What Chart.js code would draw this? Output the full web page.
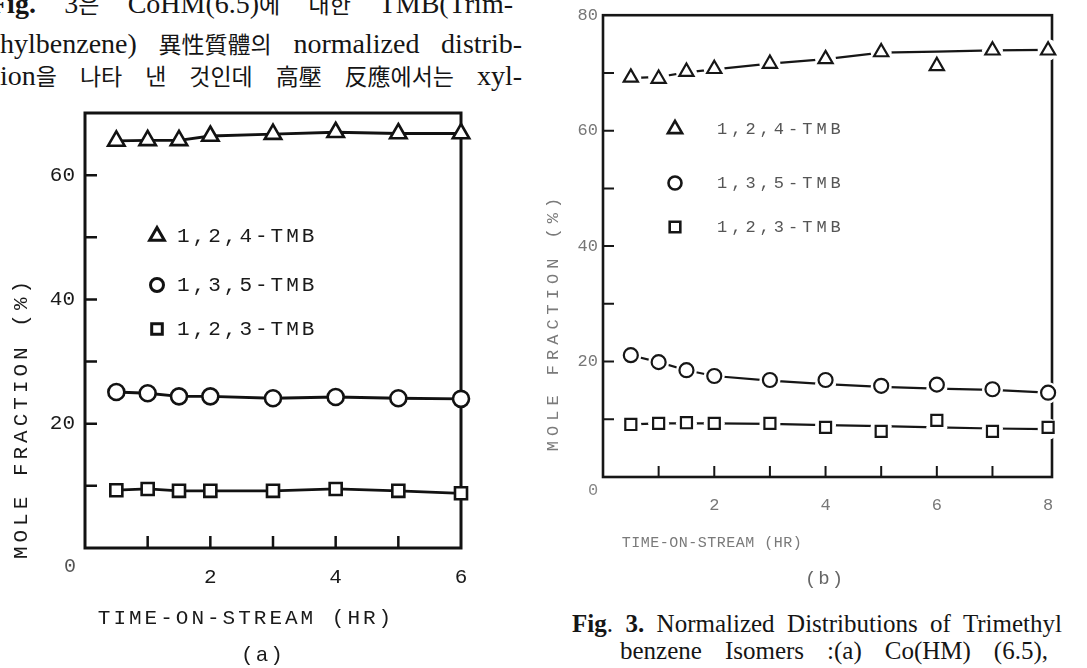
<!DOCTYPE html>
<html>
<head>
<meta charset="utf-8">
<script src="https://cdn.jsdelivr.net/npm/chart.js@4.4.1/dist/chart.umd.min.js"></script>
<style>
  html, body { margin: 0; padding: 0; background: #fff; }
  body { width: 1087px; height: 668px; position: relative; overflow: hidden; }
  .line { position: absolute; font-family: "Liberation Serif", "Noto Sans CJK KR", serif; color: #151515;
          white-space: nowrap; text-align: justify; text-align-last: justify; }
  .line span.k { display: inline-block; font-family: "Noto Sans CJK KR", sans-serif; font-size: 23px; }
  .body-text { font-size: 28px; line-height: 28px; }
  .caption { font-size: 25px; line-height: 25px; }
  canvas { position: absolute; top: 0; }
  #chartA { left: 0; }
  #chartB { left: 540px; }
</style>
</head>
<body>
<div class="line body-text" style="left:-10px; top:-11px; width:523px;"><b>Fig.</b> 3<span class="k">은</span> CoHM(6.5)<span class="k">에</span> <span class="k">대한</span> TMB(Trim-</div>
<div class="line body-text" style="left:0; top:29px; width:522px;">hylbenzene) <span class="k">異性質體의</span> normalized distrib-</div>
<div class="line body-text" style="left:0; top:61px; width:522px;">ion<span class="k">을</span> <span class="k">나타</span> <span class="k">낸</span> <span class="k">것인데</span> <span class="k">高壓</span> <span class="k">反應에서는</span> xyl-</div>

<div class="line caption" style="left:572px; top:611px; width:490px;"><b>Fig</b>. <b>3.</b> Normalized Distributions of Trimethyl</div>
<div class="line caption" style="left:620px; top:638px; width:428px;">benzene Isomers :(a) Co(HM) (6.5),</div>

<canvas id="chartA" width="540" height="668"></canvas>
<canvas id="chartB" width="547" height="668"></canvas>

<script>
// ---- data -------------------------------------------------------------
const seriesNames = ['1,2,4-TMB', '1,3,5-TMB', '1,2,3-TMB'];
const yTitle = 'MOLE FRACTION (%)';
const xTitle = 'TIME-ON-STREAM (HR)';

// panel (a): Co(HM)(6.5)
const hoursA  = [0.5, 1, 1.5, 2, 3, 4, 5, 6];
const tmb124A = [65.5, 65.6, 65.6, 66.3, 66.6, 66.9, 66.7, 66.7];
const tmb135A = [25.1, 24.9, 24.4, 24.4, 24.1, 24.3, 24.1, 24.0];
const tmb123A = [9.3, 9.5, 9.2, 9.2, 9.2, 9.5, 9.2, 8.8];
const xLabelsA = [2, 4, 6];
const yLabelsA = [20, 40, 60];

// panel (b): measured points and the smoothed trend curve through each set
const hoursB  = [0.5, 1, 1.5, 2, 3, 4, 5, 6, 7, 8];
const tmb124B = [69.2, 69.0, 70.2, 70.7, 71.6, 72.4, 73.6, 71.2, 73.9, 73.9];
const tmb135B = [21.1, 19.9, 18.5, 17.5, 16.8, 16.8, 15.8, 16.0, 15.2, 14.6];
const tmb123B = [9.1, 9.3, 9.4, 9.3, 9.3, 8.6, 7.9, 9.8, 7.9, 8.6];
const trend124B = [69.1, 69.3, 70.1, 70.6, 71.6, 72.4, 73.5, 73.7, 73.9, 74.0];
const trend135B = [21.1, 19.9, 18.5, 17.5, 16.7, 16.1, 15.6, 15.3, 15.1, 14.6];
const trend123B = [9.1, 9.3, 9.3, 9.3, 9.2, 9.0, 8.8, 8.6, 8.4, 8.3];
const xLabelsB = [2, 4, 6, 8];
const yLabelsB = [20, 40, 60, 80];

// ---- helpers ----------------------------------------------------------
const MONO = '"Liberation Mono", "DejaVu Sans Mono", monospace';
const toPoints = (xs, ys) => xs.map((x, i) => ({ x, y: ys[i] }));

function markerPath(ctx, style, x, y, r) {
  ctx.beginPath();
  if (style === 'triangle') {
    ctx.moveTo(x, y - r);
    ctx.lineTo(x + r * 0.866, y + r * 0.5);
    ctx.lineTo(x - r * 0.866, y + r * 0.5);
    ctx.closePath();
  } else if (style === 'circle') {
    ctx.arc(x, y, r, 0, Math.PI * 2);
  } else {
    const s = r * Math.SQRT1_2;
    ctx.rect(x - s, y - s, 2 * s, 2 * s);
  }
}

function drawLabel(ctx, t) {
  ctx.save();
  ctx.font = t.font;
  ctx.fillStyle = t.color;
  if ('letterSpacing' in ctx) ctx.letterSpacing = (t.spacing || 0) + 'px';
  ctx.textAlign = t.align || 'center';
  ctx.textBaseline = 'middle';
  ctx.translate(t.x, t.y);
  if (t.rotate) ctx.rotate(t.rotate);
  ctx.fillText(t.text, 0, 0);
  ctx.restore();
}

// frame, inward tick marks, titles and the in-plot key
const figurePlugin = {
  id: 'figure',
  beforeDatasetsDraw(chart, args, o) {
    const { ctx, chartArea: a, scales: { x, y } } = chart;
    ctx.save();
    ctx.strokeStyle = o.ink;
    ctx.lineWidth = o.frameWidth;
    ctx.strokeRect(a.left, a.top, a.right - a.left, a.bottom - a.top);
    ctx.lineWidth = o.tickWidth;
    ctx.beginPath();
    y.ticks.forEach(t => {
      if (t.value > y.min && t.value < y.max) {
        const py = y.getPixelForValue(t.value);
        ctx.moveTo(a.left, py); ctx.lineTo(a.left + o.tickLen, py);
      }
    });
    x.ticks.forEach(t => {
      if (t.value > x.min && t.value < x.max - 0.5) {
        const px = x.getPixelForValue(t.value);
        ctx.moveTo(px, a.bottom); ctx.lineTo(px, a.bottom - o.tickLen);
      }
    });
    ctx.stroke();
    ctx.restore();
  },
  afterDraw(chart, args, o) {
    const ctx = chart.ctx;
    o.texts.forEach(t => drawLabel(ctx, t));
    // key
    const k = o.key;
    k.styles.forEach((style, i) => {
      const yy = k.rows[i];
      ctx.save();
      ctx.strokeStyle = k.markColor;
      ctx.fillStyle = '#fff';
      ctx.lineWidth = k.markWidth;
      markerPath(ctx, style, k.markX, yy, k.radius[i]);
      ctx.fill(); ctx.stroke();
      ctx.restore();
      drawLabel(ctx, { text: seriesNames[i], x: k.textX, y: yy, font: k.font, color: k.textColor,
                       spacing: k.spacing, align: 'left' });
    });
  }
};

const tickCallback = labels => v => (labels.includes(v) ? String(v) : '');

function axes(opt) {
  return {
    x: {
      type: 'linear', min: 0, max: opt.xMax,
      grid: { display: false, drawTicks: false }, border: { display: false },
      ticks: { stepSize: 1, autoSkip: false, includeBounds: false, maxRotation: 0, padding: opt.xPad,
               font: { family: MONO, size: opt.tickSize }, color: opt.tickColor,
               callback: tickCallback(opt.xLabels) },
      afterFit: s => { s.height = 40; }
    },
    y: {
      type: 'linear', min: 0, max: opt.yMax,
      grid: { display: false, drawTicks: false }, border: { display: false },
      ticks: { stepSize: 10, autoSkip: false, padding: opt.yPad,
               font: { family: MONO, size: opt.tickSize }, color: opt.tickColor,
               callback: tickCallback(opt.yLabels) },
      afterFit: s => { s.width = opt.yWidth; }
    }
  };
}

// ---- panel (a) --------------------------------------------------------
const inkA = '#121212';
const styleA = [
  { style: 'triangle', r: 9.5 },
  { style: 'circle', r: 8 },
  { style: 'rect', r: 8.5 }
];
const valuesA = [tmb124A, tmb135A, tmb123A];

new Chart(document.getElementById('chartA'), {
  type: 'scatter',
  data: {
    datasets: valuesA.map((vals, i) => ({
      label: seriesNames[i],
      data: toPoints(hoursA, vals),
      showLine: true,
      borderColor: inkA,
      borderWidth: 2.8,
      pointStyle: styleA[i].style,
      pointRadius: styleA[i].r,
      pointBackgroundColor: '#fff',
      pointBorderColor: inkA,
      pointBorderWidth: 2.6,
      clip: false
    }))
  },
  options: {
    responsive: false, animation: false, devicePixelRatio: 1, events: [],
    layout: { padding: { left: 0, top: 113, right: 79, bottom: 80 } },
    plugins: {
      legend: { display: false }, tooltip: { enabled: false },
      figure: {
        ink: inkA, frameWidth: 3, tickWidth: 2.5, tickLen: 12,
        texts: [
          { text: yTitle, x: 21, y: 418, font: '21px ' + MONO, color: '#1a1a1a', spacing: 4, rotate: -Math.PI / 2 },
          { text: xTitle, x: 246, y: 618, font: '21px ' + MONO, color: '#1a1a1a', spacing: 3 },
          { text: '0', x: 70, y: 567, font: '20px ' + MONO, color: '#555' },
          { text: '(a)', x: 263, y: 655, font: '21px ' + MONO, color: '#1a1a1a', spacing: 2 }
        ],
        key: {
          styles: ['triangle', 'circle', 'rect'], radius: [8.5, 6.5, 7.5],
          markX: 157, rows: [236, 285, 329], markColor: inkA, markWidth: 3,
          textX: 177, font: '21px ' + MONO, textColor: '#1a1a1a', spacing: 3
        }
      }
    },
    scales: axes({ xMax: 6, yMax: 70, xLabels: xLabelsA, yLabels: yLabelsA,
                   tickSize: 21, tickColor: '#1a1a1a', xPad: 17, yPad: 10, yWidth: 85 })
  },
  plugins: [figurePlugin]
});

// ---- panel (b) --------------------------------------------------------
const inkB = '#161616';
const styleB = [
  { style: 'triangle', r: 8.2 },
  { style: 'circle', r: 7 },
  { style: 'rect', r: 7.8 }
];
const pointsB = [tmb124B, tmb135B, tmb123B];
const trendsB = [trend124B, trend135B, trend123B];

// the trend curve is interrupted wherever a measured point sits on it
const gapRadius = (i) => ctx => {
  const y = ctx.chart.scales.y;
  if (!y) return 0;
  const k = ctx.dataIndex;
  const d = Math.abs(y.getPixelForValue(trendsB[i][k]) - y.getPixelForValue(pointsB[i][k]));
  return d < 14 ? 10.5 : 0;
};

const markerSetsB = pointsB.map((vals, i) => ({
  label: seriesNames[i],
  data: toPoints(hoursB, vals),
  showLine: false,
  order: 0,
  pointStyle: styleB[i].style,
  pointRadius: styleB[i].r,
  pointBackgroundColor: '#fff',
  pointBorderColor: inkB,
  pointBorderWidth: 2.2,
  clip: false
}));
const trendSetsB = trendsB.map((vals, i) => ({
  label: seriesNames[i] + ' trend',
  data: toPoints(hoursB, vals),
  showLine: true,
  order: 1,
  borderColor: inkB,
  borderWidth: 2.2,
  pointStyle: 'circle',
  pointRadius: gapRadius(i),
  pointBackgroundColor: '#fff',
  pointBorderColor: '#fff',
  pointBorderWidth: 0,
  clip: false
}));

new Chart(document.getElementById('chartB'), {
  type: 'scatter',
  data: { datasets: [...markerSetsB, ...trendSetsB] },
  options: {
    responsive: false, animation: false, devicePixelRatio: 1, events: [],
    layout: { padding: { left: 0, top: 10, right: 35, bottom: 151 } },
    plugins: {
      legend: { display: false }, tooltip: { enabled: false },
      figure: {
        ink: inkB, frameWidth: 2.6, tickWidth: 2, tickLen: 11,
        texts: [
          { text: yTitle, x: 13, y: 322, font: '17px ' + MONO, color: '#7a7a7a', spacing: 5, rotate: -Math.PI / 2 },
          { text: xTitle, x: 172, y: 543, font: '15px ' + MONO, color: '#7a7a7a', spacing: 0.5 },
          { text: '0', x: 53, y: 490, font: '17px ' + MONO, color: '#888' },
          { text: '(b)', x: 285, y: 579, font: '19px ' + MONO, color: '#666', spacing: 2 }
        ],
        key: {
          styles: ['triangle', 'circle', 'rect'], radius: [8.2, 6.5, 7.5],
          markX: 135, rows: [129, 183, 227], markColor: inkB, markWidth: 2.6,
          textX: 177, font: '17px ' + MONO, textColor: '#555', spacing: 4
        }
      }
    },
    scales: axes({ xMax: 8.07, yMax: 80, xLabels: xLabelsB, yLabels: yLabelsB,
                   tickSize: 17, tickColor: '#777', xPad: 18, yPad: 5, yWidth: 63 })
  },
  plugins: [figurePlugin]
});
</script>
</body>
</html>
